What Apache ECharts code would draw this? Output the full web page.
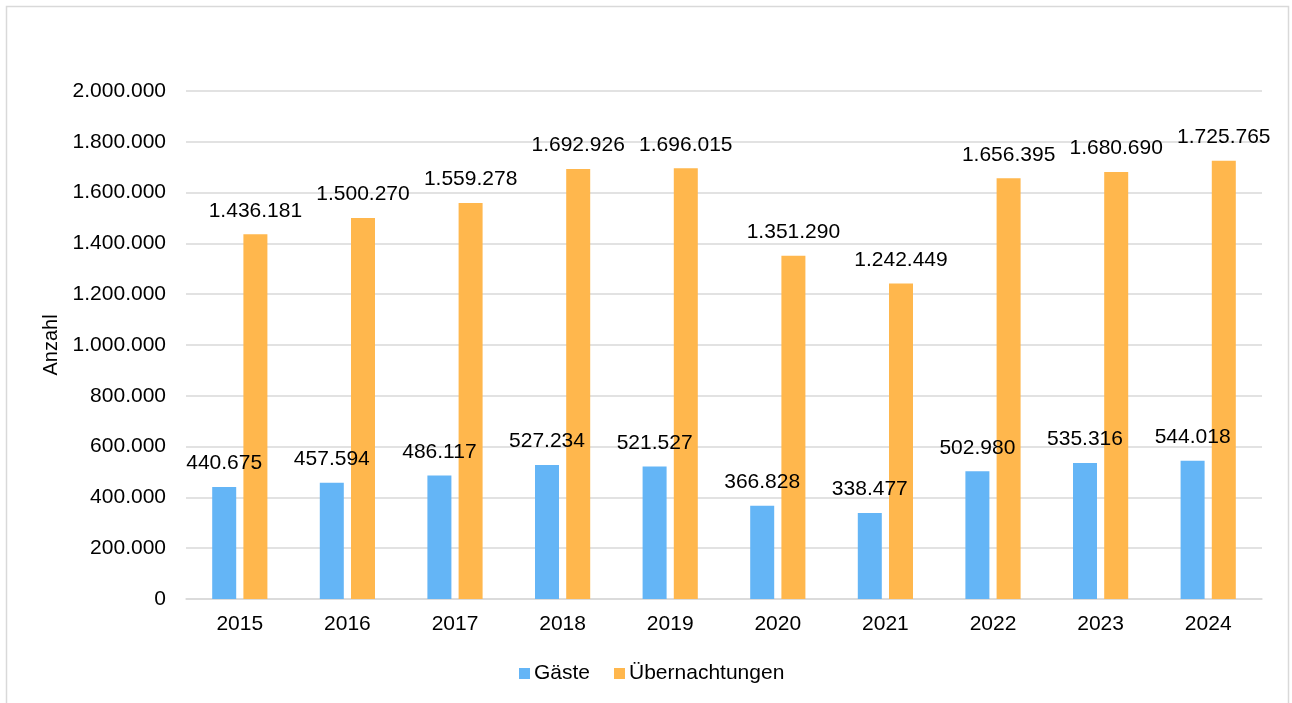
<!DOCTYPE html>
<html>
<head>
<meta charset="utf-8">
<script src="https://cdn.jsdelivr.net/npm/echarts@6/dist/echarts.min.js"></script>
<style>
  html, body { margin: 0; padding: 0; background: #ffffff; }
  #chart { width: 1292px; height: 703px; }
</style>
</head>
<body>
<div id="chart"></div>
<script>
// Gäste und Übernachtungen je Jahr
const years = ['2015', '2016', '2017', '2018', '2019', '2020', '2021', '2022', '2023', '2024'];
const gaeste = [440675, 457594, 486117, 527234, 521527, 366828, 338477, 502980, 535316, 544018];
const uebernachtungen = [1436181, 1500270, 1559278, 1692926, 1696015, 1351290, 1242449, 1656395, 1680690, 1725765];
const yTicks = [0, 200000, 400000, 600000, 800000, 1000000, 1200000, 1400000, 1600000, 1800000, 2000000];

const FONT = '"Liberation Sans", Arial, sans-serif';
const FS = 21;

// German thousands separator: 1436181 -> "1.436.181"
function fmt(v) {
  return String(Math.round(v)).replace(/\B(?=(\d{3})+(?!\d))/g, '.');
}

const chart = echarts.init(document.getElementById('chart'), null, { renderer: 'canvas' });

const labelStyle = {
  show: true,
  position: 'top',
  distance: 13,
  color: '#000000',
  fontFamily: FONT,
  fontSize: FS,
  formatter: p => fmt(p.value)
};

chart.setOption({
  backgroundColor: '#ffffff',
  animation: false,
  graphic: [{
    type: 'rect',
    shape: { x: 6.5, y: 6.5, width: 1282, height: 720 },
    style: { fill: 'none', stroke: '#d9d9d9', lineWidth: 1.5 },
    silent: true
  }],
  grid: { left: 186, right: 30, top: 91, bottom: 104 },
  legend: {
    bottom: 14,
    left: 514,
    itemWidth: 11,
    itemHeight: 11,
    itemGap: 24,
    icon: 'rect',
    textStyle: { color: '#000000', fontFamily: FONT, fontSize: FS, padding: [0, 0, 0, -1] },
    data: ['Gäste', 'Übernachtungen']
  },
  xAxis: {
    type: 'category',
    data: years,
    axisLine: { show: true, lineStyle: { color: '#d9d9d9', width: 1.5 } },
    axisTick: { show: false },
    axisLabel: { color: '#000000', fontFamily: FONT, fontSize: FS, margin: 15 }
  },
  yAxis: {
    type: 'value',
    min: yTicks[0],
    max: yTicks[yTicks.length - 1],
    interval: yTicks[1] - yTicks[0],
    name: 'Anzahl',
    nameLocation: 'middle',
    nameGap: 122,
    nameRotate: 90,
    nameTextStyle: { color: '#000000', fontFamily: FONT, fontSize: 20 },
    axisLine: { show: false },
    axisTick: { show: false },
    splitLine: { lineStyle: { color: '#d9d9d9', width: 1.5 } },
    axisLabel: { color: '#000000', fontFamily: FONT, fontSize: FS, margin: 20, formatter: v => fmt(v) }
  },
  series: [
    {
      name: 'Gäste',
      type: 'bar',
      data: gaeste,
      barWidth: 24,
      barGap: '30%',
      itemStyle: { color: '#64b5f6' },
      label: labelStyle
    },
    {
      name: 'Übernachtungen',
      type: 'bar',
      data: uebernachtungen,
      barWidth: 24,
      barGap: '30%',
      itemStyle: { color: '#ffb74d' },
      label: labelStyle
    }
  ]
});
</script>
</body>
</html>
